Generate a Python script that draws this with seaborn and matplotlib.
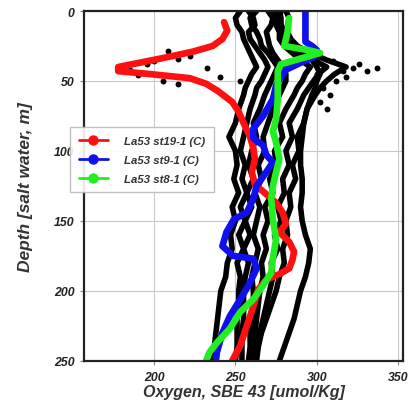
import numpy as np
import pandas as pd
import matplotlib
matplotlib.use("Agg")
import matplotlib.pyplot as plt
import seaborn as sns
from matplotlib.lines import Line2D

# ---------------- data ----------------
black_depth = [0, 5, 10, 15, 20, 25, 30, 35, 40, 45, 50, 55, 60, 70, 80, 90, 100, 110,
               120, 130, 140, 150, 160, 170, 180, 190, 200, 210, 220, 230, 240, 250]
black_k1 = [253, 250, 251, 254, 255, 257, 259, 261, 263, 260, 258, 256, 255, 252, 250,
            246, 250, 251, 249, 252, 248, 250, 247, 248, 245, 244, 241, 240, 239, 238, 237, 236]
black_k2 = [258, 261, 262, 258, 259, 262, 265, 268, 270, 268, 266, 263, 262, 259, 257,
            255, 253, 256, 254, 257, 253, 256, 252, 255, 251, 253, 252, 252, 251, 251, 251, 250]
black_k3 = [263, 259, 260, 263, 265, 266, 270, 273, 276, 274, 272, 270, 268, 265, 261,
            263, 260, 258, 261, 257, 260, 256, 259, 255, 258, 256, 255, 255, 255, 254, 254, 254]
black_k4 = [270, 273, 272, 269, 270, 271, 273, 276, 279, 281, 281, 279, 277, 273, 270,
            267, 268, 264, 266, 262, 265, 263, 261, 264, 262, 260, 261, 261, 260, 259, 259, 258]
black_k5 = [274, 276, 275, 277, 277, 280, 285, 290, 296, 293, 291, 288, 286, 281, 277,
            279, 274, 275, 271, 273, 268, 270, 267, 269, 266, 267, 265, 264, 263, 262, 261, 261]
black_k6 = [278, 277, 278, 280, 281, 284, 290, 298, 306, 301, 298, 295, 292, 288, 283,
            285, 281, 283, 279, 280, 276, 278, 274, 276, 272, 273, 271, 269, 267, 265, 264, 263]
black_k7 = [281, 283, 282, 282, 284, 288, 296, 306, 318, 311, 306, 302, 299, 294, 292,
            288, 289, 285, 287, 283, 284, 281, 282, 279, 280, 277, 275, 272, 269, 266, 264, 262]
black_k8 = [277, 278, 278, 279, 280, 284, 292, 297, 300, 302, 300, 299, 297, 294, 292,
            291, 290, 290, 291, 291, 290, 291, 293, 296, 295, 293, 290, 288, 286, 283, 280, 277]

dots_oxygen = [208.6, 222, 195.7, 205.5, 240.5, 232.5, 253, 200, 215, 185, 190, 215,
               310, 322, 337, 330.6, 316, 305, 326, 300, 304, 308, 302, 306, 312, 318]
dots_depth = [28.6, 32, 38, 50, 47, 41, 50, 36, 34, 42, 46, 52,
              36, 41, 41, 43, 43, 40, 38, 45, 55, 60, 65, 70, 50, 47]

red_depth = [8, 14, 20, 25, 29, 33, 37, 40, 43, 45, 48, 52, 57, 65, 72, 80, 90, 98,
             106, 115, 124, 130, 137, 144, 152, 158, 165, 172, 178, 184, 188, 192,
             199, 211, 225, 239, 250]
red_oxygen = [243, 245, 242, 236, 224, 208, 191, 178, 178, 197, 222, 232, 239, 248,
              252, 255, 259, 261, 262, 260, 262, 268, 275, 279, 281, 277, 283, 286,
              285, 283, 277, 269, 264, 261, 257, 253, 248]

blue_depth = [0, 10, 22, 25, 28, 33, 37, 42, 53, 63, 75, 84, 91, 96, 103, 108, 115,
              125, 134, 144, 149, 158, 168, 175, 177, 184, 194, 206, 218, 230, 244, 250]
blue_oxygen = [293, 293, 293, 297, 300, 298, 290, 281, 275, 273, 267, 261, 261, 267,
               269, 273, 269, 263, 261, 257, 249, 244.5, 242, 248.6, 261, 263, 259,
               253, 246.6, 242, 238.6, 238]

green_depth = [5, 15, 25, 28, 30, 34, 38, 43, 53, 63, 77, 86, 94, 106, 115, 125, 134,
               149, 163, 177, 187, 196, 206, 215, 227, 237, 244, 250]
green_oxygen = [283, 282, 280, 295, 302, 290, 278, 276, 276, 276, 275, 273, 275, 277,
                275, 273, 272, 273, 275, 273, 272, 267, 261, 253, 246.6, 238.6, 234, 232]

legend_labels = ["La53 st19-1 (C)", "La53 st9-1 (C)", "La53 st8-1 (C)"]
x_ticks = [200, 250, 300, 350]
y_ticks = [0, 50, 100, 150, 200, 250]

# ---------------- style ----------------
sns.set_theme(style="white")
plt.rcParams['font.family'] = ['Liberation Sans', 'DejaVu Sans']

fig = plt.figure(figsize=(4.08, 4.14), dpi=100)
ax = fig.add_axes([0.206, 0.126, 0.782, 0.845])

blacks = [black_k1, black_k2, black_k3, black_k4, black_k5, black_k6, black_k7, black_k8]
rows = []
for i, prof in enumerate(blacks):
    for d, v in zip(black_depth, prof):
        rows.append({"profile": i, "depth": d, "oxygen": v})
black_df = pd.DataFrame(rows)

sns.lineplot(data=black_df, x="oxygen", y="depth", units="profile", estimator=None,
             sort=False, color="black", lw=4.0, ax=ax, legend=False)
sns.scatterplot(x=dots_oxygen, y=dots_depth, color="black", s=18, linewidth=0, ax=ax)

series = [(red_oxygen, red_depth, "#ff1010"),
          (blue_oxygen, blue_depth, "#1010ee"),
          (green_oxygen, green_depth, "#22ee22")]
for (ox, dp, col) in series:
    df = pd.DataFrame({"oxygen": ox, "depth": dp})
    sns.lineplot(data=df, x="oxygen", y="depth", sort=False, estimator=None,
                 color=col, lw=4.8, ax=ax, legend=False)

ax.set_xlim(157, 353)
ax.set_ylim(250, 0)
ax.set_xticks(x_ticks)
ax.set_yticks(y_ticks)
ax.grid(True, color="#c8c8c8", lw=0.8)
ax.set_axisbelow(True)
for s in ax.spines.values():
    s.set_color("#222222")
    s.set_linewidth(1.6)
ax.tick_params(axis="both", length=3, width=0.8, color="#888888",
               labelsize=8.8, labelcolor="#222222", pad=4, direction="out",
               bottom=True, left=True)
for lab in ax.get_xticklabels() + ax.get_yticklabels():
    lab.set_fontweight("bold")
    lab.set_fontstyle("italic")

ax.set_xlabel("Oxygen, SBE 43 [umol/Kg]", fontsize=11.5, fontweight="bold",
              fontstyle="italic", color="#333333", labelpad=1)
ax.set_ylabel("Depth [salt water, m]", fontsize=12.5, fontweight="bold",
              fontstyle="italic", color="#333333", labelpad=15)

handles = [Line2D([0], [0], color=c, lw=2.0, marker="o", markersize=6.5)
           for c in ["#ff1010", "#1010ee", "#22ee22"]]
leg = fig.legend(handles, legend_labels, loc="upper left",
                 bbox_to_anchor=(70 / 408, 1 - 128 / 414), borderaxespad=0,
                 frameon=True, fancybox=False, handlelength=2.6, borderpad=0.75,
                 labelspacing=0.8, handletextpad=1.4,
                 prop={"size": 8.2, "weight": "bold", "style": "italic"})
leg.get_frame().set_edgecolor("#bbbbbb")
leg.get_frame().set_linewidth(1.0)
leg.get_frame().set_facecolor("white")
leg.get_frame().set_alpha(0.9)
for t in leg.get_texts():
    t.set_color("#333333")

fig.savefig("out.png", dpi=100)
